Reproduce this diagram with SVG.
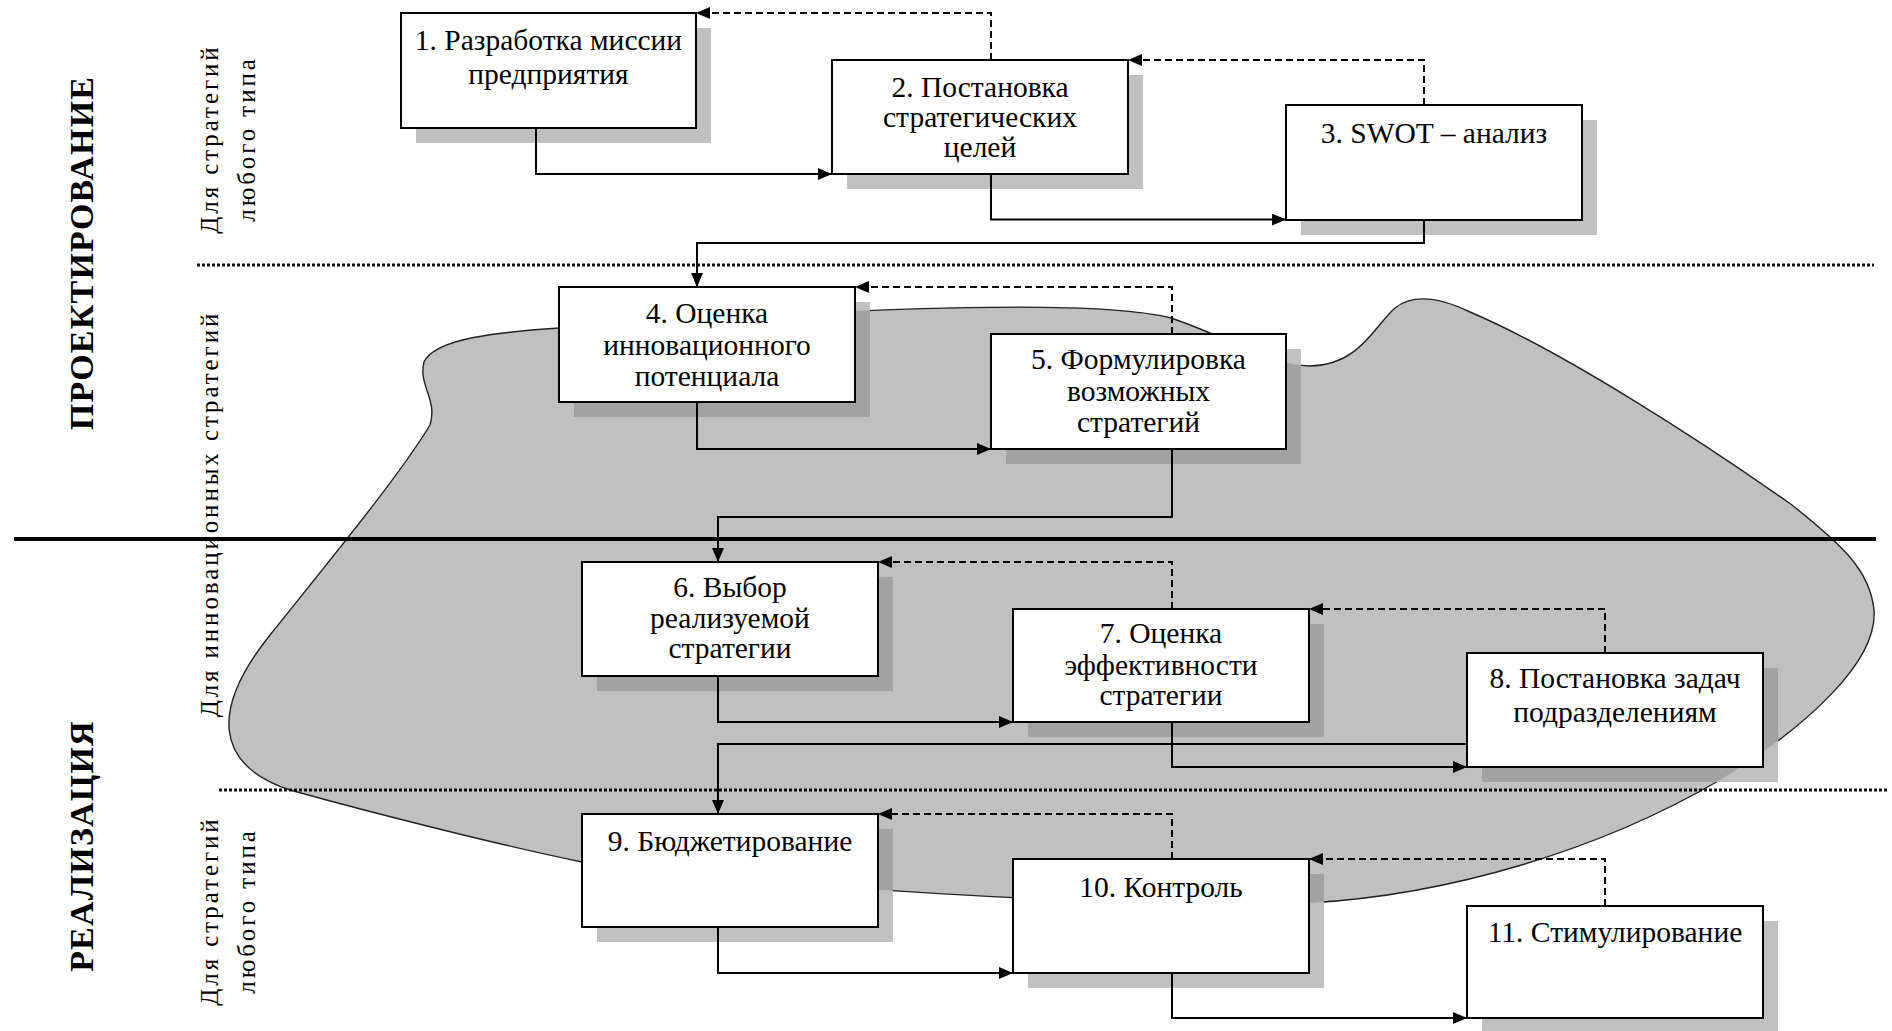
<svg xmlns="http://www.w3.org/2000/svg" xmlns:xlink="http://www.w3.org/1999/xlink" width="1892" height="1031" viewBox="0 0 1892 1031">
  <style>
    .blob { fill:#c0c0c0; stroke:#222; stroke-width:1.4 }
    .sh { fill:#c0c0c0 }
    .shd { fill:#a2a2a2 }
    .box { fill:#fff; stroke:#000; stroke-width:2 }
    .lbl { font-family:"Liberation Serif","Times New Roman",serif; font-size:29.5px; text-anchor:middle; fill:#000 }
    .side { font-family:"Liberation Serif","Times New Roman",serif; font-size:25px; letter-spacing:2.9px; text-anchor:middle; fill:#000 }
    .stage { font-family:"Liberation Serif","Times New Roman",serif; font-size:34px; font-weight:bold; letter-spacing:1.2px; text-anchor:middle; fill:#000 }
    .flow { fill:none; stroke:#000; stroke-width:2; marker-end:url(#arr) }
    .back { fill:none; stroke:#000; stroke-width:2; stroke-dasharray:7 4; marker-end:url(#arr) }
    .dots { fill:none; stroke:#111; stroke-width:3; stroke-dasharray:3 2 }
  </style>
  <defs>
    <marker id="arr" markerUnits="userSpaceOnUse" markerWidth="14" markerHeight="12" refX="14" refY="6" orient="auto">
      <path d="M0,0 L14,6 L0,12 Z" fill="#000"/>
    </marker>
    <path id="blobShape" d="M559,328 C500,332 435,338 424,362 C418,385 438,400 430,425 C400,475 330,560 270,635 C210,710 215,765 290,790 C380,815 500,845 582,862 C700,880 1100,910 1309,903 C1450,895 1600,850 1720,780 C1810,725 1878,660 1874,610 C1870,570 1842,545 1792,505 C1700,440 1560,350 1470,312 C1445,300 1415,292 1395,308 C1375,325 1360,365 1310,366 C1270,365 1230,338 1171,318 C1100,300 900,305 559,328 Z"/>
    <clipPath id="blobClip">
      <use xlink:href="#blobShape"/>
    </clipPath>
    <g id="shadowSet">
      <rect x="416" y="28" width="295" height="115"/>
      <rect x="847" y="75" width="296" height="114"/>
      <rect x="1301" y="120" width="296" height="115"/>
      <rect x="574" y="302" width="296" height="115"/>
      <rect x="1006" y="349" width="295" height="115"/>
      <rect x="597" y="577" width="296" height="114"/>
      <rect x="1028" y="624" width="296" height="113"/>
      <rect x="1482" y="668" width="296" height="114"/>
      <rect x="597" y="829" width="296" height="113"/>
      <rect x="1028" y="874" width="296" height="114"/>
      <rect x="1482" y="921" width="296" height="112"/>
    </g>
  </defs>

  <!-- innovation-strategy zone -->
  <use xlink:href="#blobShape" class="blob"/>

  <!-- stage boundaries -->
  <g id="dividers">
    <path class="dots" d="M197,265 H1874"/>
    <path class="dots" d="M219,790 H1888"/>
    <path d="M14,539 H1876" stroke="#000" stroke-width="4"/>
  </g>

  <!-- side captions -->
  <g id="captions">
    <text class="stage" transform="translate(93,253) rotate(-90)">ПРОЕКТИРОВАНИЕ</text>
    <text class="stage" transform="translate(93,846) rotate(-90)">РЕАЛИЗАЦИЯ</text>
    <text class="side" transform="translate(218,139) rotate(-90)">Для стратегий</text>
    <text class="side" transform="translate(255,139) rotate(-90)">любого типа</text>
    <text class="side" transform="translate(218,514) rotate(-90)">Для инновационных стратегий</text>
    <text class="side" transform="translate(218,911) rotate(-90)">Для стратегий</text>
    <text class="side" transform="translate(255,911) rotate(-90)">любого типа</text>
  </g>

  <!-- drop shadows: light on paper, darker over the zone -->
  <g id="shadows">
    <use xlink:href="#shadowSet" class="sh"/>
    <g clip-path="url(#blobClip)">
      <use xlink:href="#shadowSet" class="shd"/>
    </g>
  </g>

  <!-- connectors -->
  <g id="connectors">
    <path class="flow" d="M536,128 V174 H832"/>
    <path class="flow" d="M991,174 V219.5 H1286"/>
    <path class="flow" d="M1424,220 V243 H697 V287"/>
    <path class="flow" d="M697,402 V449 H991"/>
    <path class="flow" d="M1172,449 V517 H718 V562"/>
    <path class="flow" d="M718,676 V722 H1013"/>
    <path class="flow" d="M1172,722 V767 H1467"/>
    <path class="flow" d="M1467,744 H718 V814"/>
    <path class="flow" d="M718,927 V973 H1013"/>
    <path class="flow" d="M1172,973 V1018 H1467"/>
    <path class="back" d="M991,60 V13 H696"/>
    <path class="back" d="M1424,105 V60 H1128"/>
    <path class="back" d="M1172,334 V287 H855"/>
    <path class="back" d="M1172,609 V562 H878"/>
    <path class="back" d="M1605,653 V609 H1309"/>
    <path class="back" d="M1172,859 V814 H878"/>
    <path class="back" d="M1605,906 V859 H1309"/>
  </g>

  <!-- process steps -->
  <g id="step1">
    <rect class="box" x="401" y="13" width="295" height="115"/>
    <text class="lbl" x="548.5" y="50">1. Разработка миссии</text>
    <text class="lbl" x="548.5" y="84">предприятия</text>
  </g>
  <g id="step2">
    <rect class="box" x="832" y="60" width="296" height="114"/>
    <text class="lbl" x="980" y="97">2. Постановка</text>
    <text class="lbl" x="980" y="127">стратегических</text>
    <text class="lbl" x="980" y="157">целей</text>
  </g>
  <g id="step3">
    <rect class="box" x="1286" y="105" width="296" height="115"/>
    <text class="lbl" x="1434" y="143">3. SWOT – анализ</text>
  </g>
  <g id="step4">
    <rect class="box" x="559" y="287" width="296" height="115"/>
    <text class="lbl" x="707" y="323">4. Оценка</text>
    <text class="lbl" x="707" y="355">инновационного</text>
    <text class="lbl" x="707" y="386">потенциала</text>
  </g>
  <g id="step5">
    <rect class="box" x="991" y="334" width="295" height="115"/>
    <text class="lbl" x="1138.5" y="369">5. Формулировка</text>
    <text class="lbl" x="1138.5" y="401">возможных</text>
    <text class="lbl" x="1138.5" y="432">стратегий</text>
  </g>
  <g id="step6">
    <rect class="box" x="582" y="562" width="296" height="114"/>
    <text class="lbl" x="730" y="597">6. Выбор</text>
    <text class="lbl" x="730" y="628">реализуемой</text>
    <text class="lbl" x="730" y="658">стратегии</text>
  </g>
  <g id="step7">
    <rect class="box" x="1013" y="609" width="296" height="113"/>
    <text class="lbl" x="1161" y="643">7. Оценка</text>
    <text class="lbl" x="1161" y="675">эффективности</text>
    <text class="lbl" x="1161" y="705">стратегии</text>
  </g>
  <g id="step8">
    <rect class="box" x="1467" y="653" width="296" height="114"/>
    <text class="lbl" x="1615" y="688">8. Постановка задач</text>
    <text class="lbl" x="1615" y="722">подразделениям</text>
  </g>
  <g id="step9">
    <rect class="box" x="582" y="814" width="296" height="113"/>
    <text class="lbl" x="730" y="851">9. Бюджетирование</text>
  </g>
  <g id="step10">
    <rect class="box" x="1013" y="859" width="296" height="114"/>
    <text class="lbl" x="1161" y="897">10. Контроль</text>
  </g>
  <g id="step11">
    <rect class="box" x="1467" y="906" width="296" height="112"/>
    <text class="lbl" x="1615" y="942">11. Стимулирование</text>
  </g>
</svg>
